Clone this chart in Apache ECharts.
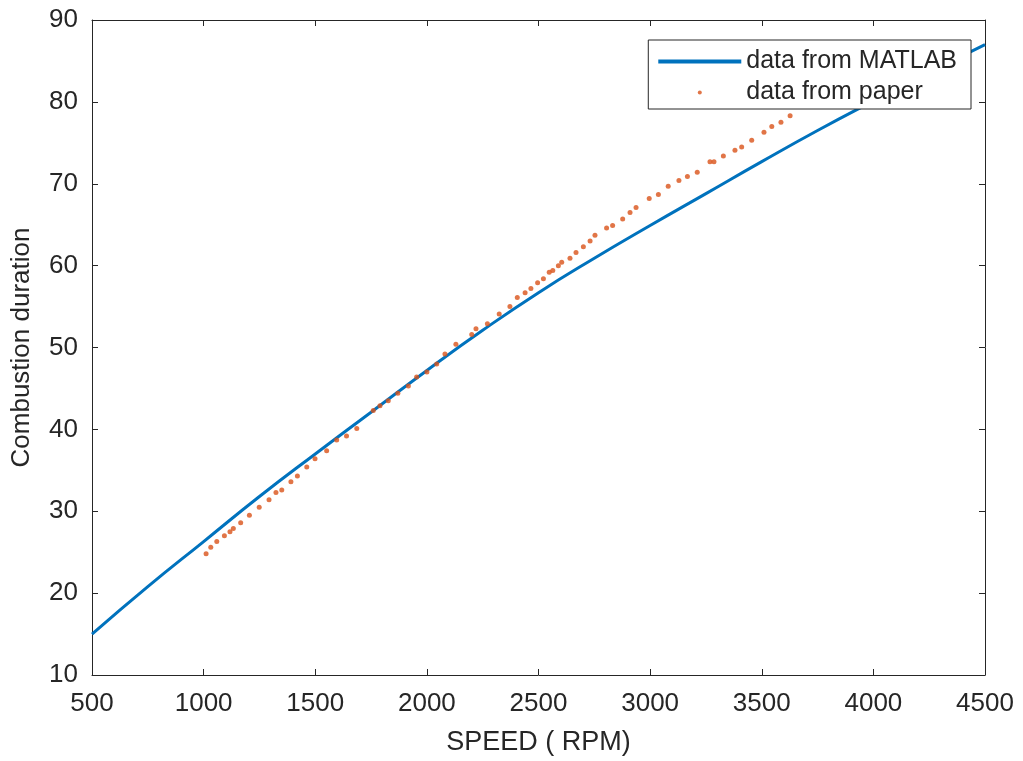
<!DOCTYPE html>
<html>
<head>
<meta charset="utf-8">
<script src="https://cdn.jsdelivr.net/npm/echarts@6/dist/echarts.min.js"></script>
<style>html,body{margin:0;padding:0;background:#fff;}#chart{width:1023px;height:761px;}</style>
</head>
<body>
<div id="chart"></div>
<script>
// MATLAB model curve
const matlabRpm = [500, 750, 1000, 1250, 1500, 1750, 2000, 2250, 2500, 2750, 3000, 3250, 3500, 3750, 4000, 4250, 4500];
const matlabVal = [15.0, 20.8, 26.3, 31.8, 37.0, 42.1, 47.2, 52.1, 56.7, 60.9, 64.9, 68.8, 72.7, 76.5, 80.1, 83.6, 87.0];
// data from paper
const paperRpm = [1011,1032,1059,1093,1118,1133,1166,1205,1249,1293,1324,1350,1391,1420,1462,1499,1551,1596,1640,1686,1760,1790,1827,1870,1917,1954,2000,2044,2081,2130,2201,2220,2271,2324,2372,2405,2440,2466,2496,2522,2548,2564,2589,2604,2641,2668,2701,2731,2753,2805,2832,2877,2910,2937,2996,3037,3081,3129,3167,3211,3268,3286,3328,3380,3410,3455,3510,3545,3586,3627];
const paperVal = [24.8,25.6,26.3,27.0,27.5,27.9,28.6,29.5,30.5,31.4,32.3,32.6,33.6,34.3,35.4,36.4,37.4,38.7,39.2,40.1,42.3,42.9,43.5,44.4,45.3,46.4,47.0,48.0,49.2,50.4,51.6,52.3,52.9,54.1,55.0,56.1,56.7,57.2,57.9,58.4,59.2,59.4,60.0,60.4,60.9,61.6,62.3,63.0,63.7,64.6,64.9,65.7,66.5,67.1,68.2,68.7,69.7,70.4,70.9,71.4,72.7,72.7,73.4,74.1,74.5,75.3,76.3,77.0,77.5,78.3];
const xTitle = 'SPEED ( RPM)';
const yTitle = 'Combustion duration';
const seriesNames = ['data from MATLAB', 'data from paper'];

const font = '"Liberation Sans", Arial, sans-serif';
const axisColor = '#262626';
const chart = echarts.init(document.getElementById('chart'), null, {renderer: 'canvas'});
const baseAxis = {
  axisLine: {show: true, onZero: false, lineStyle: {color: axisColor, width: 1}},
  axisTick: {show: true, inside: true, length: 6, lineStyle: {color: axisColor}},
  splitLine: {show: false}
};
const plain = v => String(v);
chart.setOption({
  animation: false,
  backgroundColor: '#fff',
  grid: {left: 92, right: 38, top: 20, bottom: 84, containLabel: false},
  xAxis: [
    Object.assign({}, baseAxis, {
      type: 'value', min: 500, max: 4500, interval: 500, position: 'bottom',
      name: xTitle, nameLocation: 'middle', nameGap: 54,
      nameTextStyle: {fontFamily: font, fontSize: 27, color: axisColor},
      axisLabel: {fontFamily: font, fontSize: 26, color: axisColor, margin: 16, formatter: plain}
    }),
    Object.assign({}, baseAxis, {
      type: 'value', min: 500, max: 4500, interval: 500, position: 'top',
      axisLabel: {show: false}
    })
  ],
  yAxis: [
    Object.assign({}, baseAxis, {
      type: 'value', min: 10, max: 90, interval: 10, position: 'left',
      name: yTitle, nameLocation: 'middle', nameGap: 57,
      nameTextStyle: {fontFamily: font, fontSize: 26, color: axisColor},
      axisLabel: {fontFamily: font, fontSize: 26, color: axisColor, margin: 14, formatter: plain}
    }),
    Object.assign({}, baseAxis, {
      type: 'value', min: 10, max: 90, interval: 10, position: 'right',
      axisLabel: {show: false}
    })
  ],
  legend: {
    orient: 'vertical',
    right: 52, top: 40,
    backgroundColor: '#fff',
    borderColor: axisColor, borderWidth: 1, borderRadius: 0,
    padding: [9, 14, 4, 10],
    itemWidth: 83, itemHeight: 4, itemGap: 6,
    textStyle: {fontFamily: font, fontSize: 25, color: axisColor},
    data: [
      {name: seriesNames[0], icon: 'rect'},
      {name: seriesNames[1], icon: 'circle'}
    ]
  },
  series: [
    {
      name: seriesNames[0], type: 'line', smooth: true, symbol: 'none',
      data: matlabRpm.map((r, i) => [r, matlabVal[i]]),
      lineStyle: {color: '#0072BD', width: 3}, itemStyle: {color: '#0072BD'}, z: 2
    },
    {
      name: seriesNames[1], type: 'scatter', symbol: 'circle', symbolSize: 5,
      data: paperRpm.map((r, i) => [r, paperVal[i]]),
      itemStyle: {color: '#D95319'}, z: 3
    }
  ]
});
</script>
</body>
</html>
